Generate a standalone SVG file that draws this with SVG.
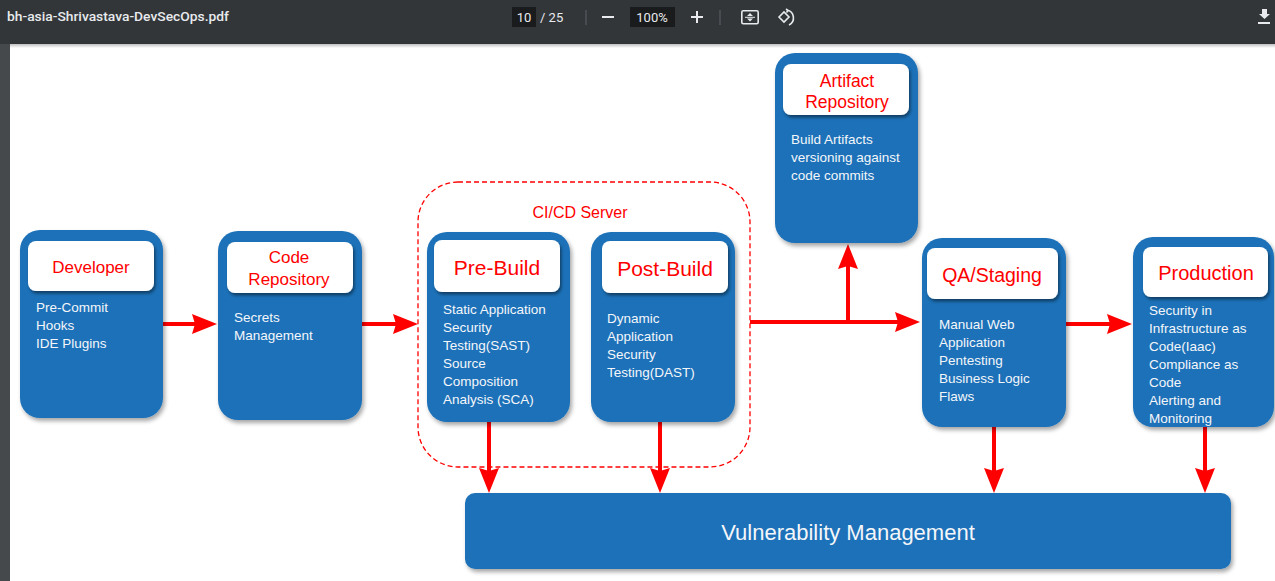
<svg xmlns="http://www.w3.org/2000/svg" width="1275" height="581" viewBox="0 0 1275 581">
<defs>
<style>
.node{fill:#1c71b8}
.head{fill:#fff}
.title{font-family:"Liberation Sans",Arial,sans-serif;fill:#ff0000;text-anchor:middle}
.body{font-family:"Liberation Sans",Arial,sans-serif;font-size:13.5px;fill:#f4f6fa}
.conn{stroke:#ff0000;stroke-width:4;fill:none}
.chrome{font-family:Roboto,"Liberation Sans",sans-serif;fill:#e8eaed}
.ico{stroke:#e8eaed;fill:none;stroke-width:1.6}
</style>
<filter id="sh" x="-10%" y="-10%" width="125%" height="125%">
<feDropShadow dx="2" dy="3" stdDeviation="2" flood-color="#000" flood-opacity="0.35"/>
</filter>
<filter id="sh2" x="-10%" y="-10%" width="125%" height="140%">
<feDropShadow dx="1.5" dy="2.5" stdDeviation="1.5" flood-color="#000" flood-opacity="0.45"/>
</filter>
<marker id="arr" viewBox="0 0 25 20" markerWidth="25" markerHeight="20" refX="10" refY="10" orient="auto" markerUnits="userSpaceOnUse">
<path d="M0,0 L25,10 L0,20 L3,10 z" fill="#ff0000"/>
</marker>
<linearGradient id="tb" x1="0" y1="0" x2="0" y2="1">
<stop offset="0" stop-color="#000" stop-opacity="0.25"/>
<stop offset="1" stop-color="#000" stop-opacity="0"/>
</linearGradient>
</defs>

<rect x="0" y="0" width="1275" height="581" fill="#ffffff"/>
<rect x="0" y="44" width="10" height="537" fill="#45494c"/>

<g id="viewer-bar">
<rect x="0" y="0" width="1275" height="44" fill="#323639"/>
<rect x="10" y="44" width="1265" height="4" fill="url(#tb)"/>
<text class="chrome" x="7" y="21" font-size="13" font-weight="500" fill="#f1f3f4" textLength="222" lengthAdjust="spacingAndGlyphs">bh-asia-Shrivastava-DevSecOps.pdf</text>
<rect x="512" y="7" width="24" height="20" fill="#191b1c"/>
<text class="chrome" x="524" y="22" font-size="13" text-anchor="middle" fill="#ffffff">10</text>
<text class="chrome" x="540" y="22" font-size="13">/ 25</text>
<line x1="586" y1="10" x2="586" y2="25" stroke="#5f6368" stroke-width="1"/>
<line x1="602" y1="17" x2="614" y2="17" stroke="#e8eaed" stroke-width="2"/>
<rect x="630" y="7" width="45" height="20" fill="#191b1c"/>
<text class="chrome" x="652" y="22" font-size="13" text-anchor="middle" fill="#ffffff">100%</text>
<line x1="691" y1="17" x2="703" y2="17" stroke="#e8eaed" stroke-width="2"/>
<line x1="697" y1="11" x2="697" y2="23" stroke="#e8eaed" stroke-width="2"/>
<line x1="720" y1="10" x2="720" y2="25" stroke="#5f6368" stroke-width="1"/>
<rect class="ico" x="741.8" y="10.8" width="16.4" height="13" rx="1.5"/>
<path d="M747,16 L750,13 L753,16 z M747,18.5 L750,21.5 L753,18.5 z" fill="#e8eaed"/>
<line x1="745" y1="17.3" x2="755" y2="17.3" stroke="#e8eaed" stroke-width="1"/>
<path class="ico" d="M779,17 L784,12 L789,17 L784,22 z"/>
<path class="ico" d="M787,10 A8,8 0 0 1 789,25 M786,9 L788,10.5 L786.5,12.5"/>
<path d="M1262,9 H1267 V14 H1270 L1264.5,19 L1259,14 H1262 z" fill="#e8eaed"/>
<rect x="1258" y="22" width="12" height="2" fill="#e8eaed"/>
</g>

<g id="connectors">
<path class="conn" d="M163,324 H202" marker-end="url(#arr)"/>
<path class="conn" d="M362,324 H403" marker-end="url(#arr)"/>
<path class="conn" d="M750,322 H905" marker-end="url(#arr)"/>
<path class="conn" d="M848,322 V259" marker-end="url(#arr)"/>
<path class="conn" d="M1066,324 H1117" marker-end="url(#arr)"/>
<path class="conn" d="M489,421 V478" marker-end="url(#arr)"/>
<path class="conn" d="M660,421 V478" marker-end="url(#arr)"/>
<path class="conn" d="M994,427 V478" marker-end="url(#arr)"/>
<path class="conn" d="M1205,427 V478" marker-end="url(#arr)"/>
</g>

<g id="cicd-server">
<rect x="418" y="182" width="332" height="285" rx="40" fill="none" stroke="#ff0000" stroke-width="1.3" stroke-dasharray="5 3"/>
<text class="title" x="580" y="218" font-size="16">CI/CD Server</text>
</g>

<g id="developer">
<rect class="node" x="20" y="230" width="143" height="188" rx="20" filter="url(#sh)"/>
<rect class="head" x="28" y="241" width="126" height="50" rx="8" filter="url(#sh2)"/>
<text class="title" x="91" y="273" font-size="17">Developer</text>
<text class="body" x="36" y="312">Pre-Commit</text>
<text class="body" x="36" y="330">Hooks</text>
<text class="body" x="36" y="348">IDE Plugins</text>
</g>

<g id="code-repository">
<rect class="node" x="218" y="231" width="144" height="189" rx="20" filter="url(#sh)"/>
<rect class="head" x="227" y="242" width="126" height="51" rx="8" filter="url(#sh2)"/>
<text class="title" x="289" y="263" font-size="17">Code</text>
<text class="title" x="289" y="285" font-size="17">Repository</text>
<text class="body" x="234" y="322">Secrets</text>
<text class="body" x="234" y="340">Management</text>
</g>

<g id="pre-build">
<rect class="node" x="427" y="232" width="143" height="190" rx="20" filter="url(#sh)"/>
<rect class="head" x="434" y="240" width="126" height="52" rx="8" filter="url(#sh2)"/>
<text class="title" x="497" y="275" font-size="21">Pre-Build</text>
<text class="body" x="443" y="314">Static Application</text>
<text class="body" x="443" y="332">Security</text>
<text class="body" x="443" y="350">Testing(SAST)</text>
<text class="body" x="443" y="368">Source</text>
<text class="body" x="443" y="386">Composition</text>
<text class="body" x="443" y="404">Analysis (SCA)</text>
</g>

<g id="post-build">
<rect class="node" x="591" y="232" width="144" height="190" rx="20" filter="url(#sh)"/>
<rect class="head" x="602" y="241" width="126" height="52" rx="8" filter="url(#sh2)"/>
<text class="title" x="665" y="276" font-size="21">Post-Build</text>
<text class="body" x="607" y="323">Dynamic</text>
<text class="body" x="607" y="341">Application</text>
<text class="body" x="607" y="359">Security</text>
<text class="body" x="607" y="377">Testing(DAST)</text>
</g>

<g id="artifact-repository">
<rect class="node" x="775" y="53" width="143" height="190" rx="20" filter="url(#sh)"/>
<rect class="head" x="783" y="64" width="126" height="51" rx="8" filter="url(#sh2)"/>
<text class="title" x="847" y="87" font-size="17.5">Artifact</text>
<text class="title" x="847" y="108" font-size="17.5">Repository</text>
<text class="body" x="791" y="144">Build Artifacts</text>
<text class="body" x="791" y="162">versioning against</text>
<text class="body" x="791" y="180">code commits</text>
</g>

<g id="qa-staging">
<rect class="node" x="922" y="238" width="144" height="189" rx="20" filter="url(#sh)"/>
<rect class="head" x="927" y="248" width="131" height="51" rx="8" filter="url(#sh2)"/>
<text class="title" x="992" y="282" font-size="19.5">QA/Staging</text>
<text class="body" x="939" y="329">Manual Web</text>
<text class="body" x="939" y="347">Application</text>
<text class="body" x="939" y="365">Pentesting</text>
<text class="body" x="939" y="383">Business Logic</text>
<text class="body" x="939" y="401">Flaws</text>
</g>

<g id="production">
<rect class="node" x="1133" y="237" width="141" height="190" rx="20" filter="url(#sh)"/>
<rect class="head" x="1143" y="247" width="125" height="50" rx="8" filter="url(#sh2)"/>
<text class="title" x="1206" y="280" font-size="20">Production</text>
<text class="body" x="1149" y="315">Security in</text>
<text class="body" x="1149" y="333">Infrastructure as</text>
<text class="body" x="1149" y="351">Code(Iaac)</text>
<text class="body" x="1149" y="369">Compliance as</text>
<text class="body" x="1149" y="387">Code</text>
<text class="body" x="1149" y="405">Alerting and</text>
<text class="body" x="1149" y="423">Monitoring</text>
</g>

<g id="vulnerability-management">
<rect class="node" x="465" y="493" width="766" height="76" rx="10" filter="url(#sh)"/>
<text x="848" y="540" font-family="'Liberation Sans',Arial,sans-serif" font-size="22" fill="#f4f6fa" text-anchor="middle">Vulnerability Management</text>
</g>
</svg>
